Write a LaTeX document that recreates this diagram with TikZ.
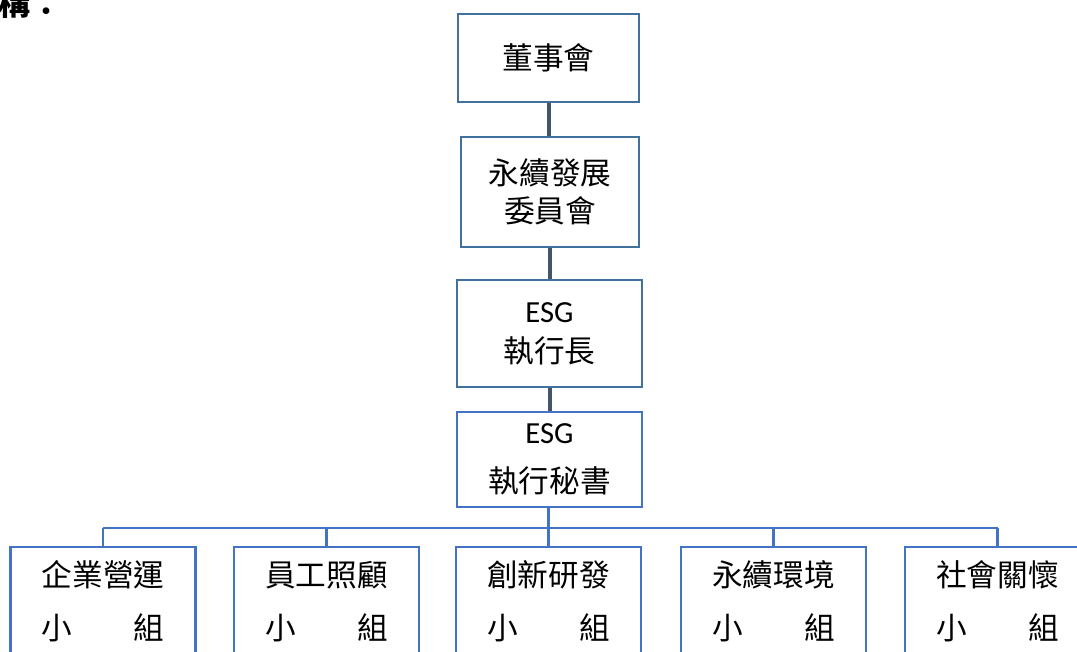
\documentclass[tikz,border=0pt]{standalone}
\usepackage{fontspec}
\setmainfont{Noto Sans CJK TC}
\newfontfamily\esgfont{Carlito}
\definecolor{boxblue}{HTML}{41719C}
\definecolor{groupblue}{HTML}{4472C4}
\definecolor{linkgrey}{HTML}{44546A}
\tikzset{
	topbox/.style={draw=boxblue, line width=2.2pt, minimum width=138.75pt, align=center, inner sep=0pt},
	groupbox/.style={draw=groupblue, line width=2.2pt, minimum width=138.75pt, minimum height=81.75pt, align=center, inner sep=0pt, font=\fontsize{23}{39.75}\selectfont},
	link/.style={linkgrey, line width=3pt},
	bus/.style={groupblue, line width=2.2pt}
}
\begin{document}
\begin{tikzpicture}[x=0.75pt,y=-0.75pt]
	\useasboundingbox (0,0) rectangle (1077,652);
	\clip (0,0) rectangle (1077,652);%page cuts title and groups

	\node[anchor=west, inner sep=0pt, font=\bfseries\fontsize{24}{24}\selectfont] (title) at (-2,3) {構：};

	\node[topbox, minimum width=135.75pt, minimum height=66pt, font=\fontsize{23}{28}\selectfont] (board) at (548.5,58) {董事會};
	\node[topbox, minimum width=133.5pt, minimum height=82.5pt, font=\fontsize{23}{28.5}\selectfont] (committee) at (550,192) {永續發展\\委員會};
	\node[topbox, minimum height=80.25pt, font=\fontsize{23}{30}\selectfont] (ceo) at (549.5,333.5) {{\esgfont ESG}\\執行長};
	\node[topbox, draw=groupblue, minimum height=71.25pt, font=\fontsize{23}{36.75}\selectfont] (secretary) at (549.5,459.5) {{\esgfont ESG}\\執行秘書};

	\foreach \name/\x/\txt in {g1/103/企業營運, g2/326.5/員工照顧, g3/548.5/創新研發, g4/773.5/永續環境, g5/997.5/社會關懷}
		\node[groupbox] (\name) at (\x,601.5) {\txt\\小　　組};

	\draw[link] (board.south) -- (board.south |- committee.north);
	\draw[link] (committee.south) -- (committee.south |- ceo.north);
	\draw[link] (ceo.south) -- (ceo.south |- secretary.north);

	\coordinate (fork) at (548.5,528);
	\draw[bus] (secretary.south -| g3.north) -- (g3.north);%down to middle group
	\draw[bus] (g1.north |- fork) -- (g5.north |- fork);%horizontal bar
	\foreach \name in {g1,g2,g4,g5}
		\draw[bus] (\name.north |- fork) -- (\name.north);
\end{tikzpicture}
\end{document}
